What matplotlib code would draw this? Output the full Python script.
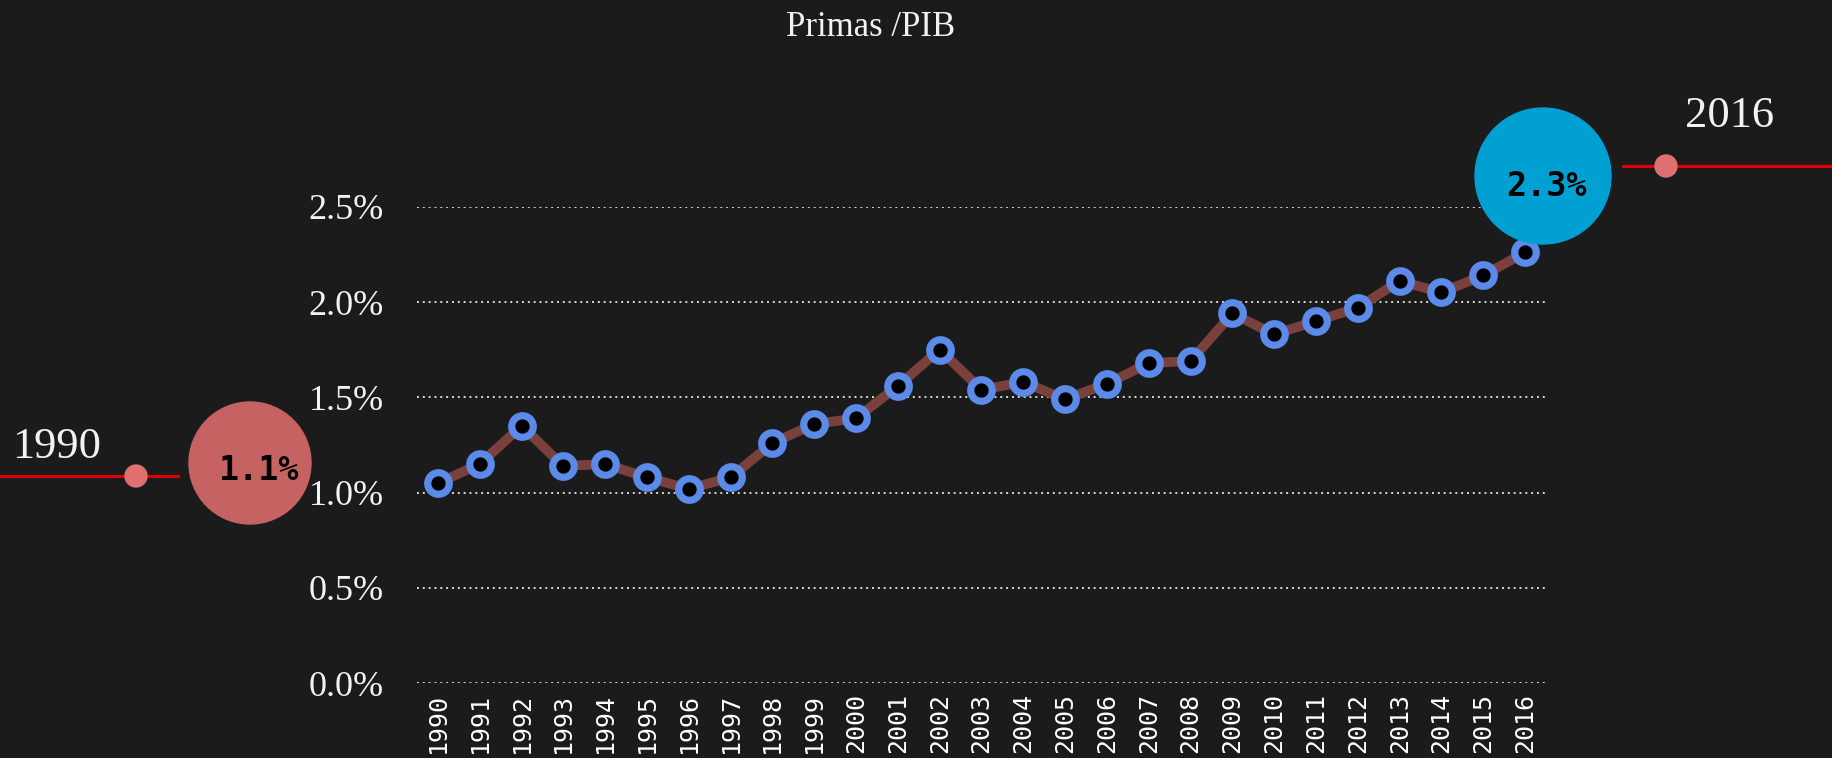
import numpy as np
import matplotlib
matplotlib.use('Agg')
import matplotlib.pyplot as plt
from matplotlib.patches import Circle

# ---- data ----
years = [str(y) for y in range(1990, 2017)]
primas_pib = [1.05, 1.15, 1.35, 1.14, 1.15, 1.08, 1.02, 1.08, 1.26, 1.36,
              1.39, 1.56, 1.75, 1.54, 1.58, 1.49, 1.57, 1.68, 1.69, 1.94,
              1.83, 1.90, 1.97, 2.11, 2.05, 2.14, 2.26]
y_ticks = [0.0, 0.5, 1.0, 1.5, 2.0, 2.5]
title = 'Primas /PIB'
start_year, start_label = '1990', '1.1%'
end_year, end_label = '2016', '2.3%'

# ---- style ----
BG = '#1b1b1b'
LINE = '#7a403c'
RING = '#5b8ae8'
SERIF = 'Liberation Serif'
MONO = 'DejaVu Sans Mono'

W, H = 1832, 758
fig = plt.figure(figsize=(W / 100, H / 100), dpi=100, facecolor=BG)

ax = fig.add_axes([417 / W, 1 - 683.3 / H, 1129 / W, 476.6 / H])
ax.set_facecolor('none')
x = np.arange(len(years))
ax.plot(x, primas_pib, color=LINE, lw=7, zorder=3, clip_on=False)
ax.plot(x, primas_pib, 'o', ms=15.5, mfc='black', mec=RING, mew=5.2,
        zorder=4, clip_on=False)
ax.set_xlim(-0.5, len(years) - 0.5)
ax.set_ylim(0, 2.5)
ax.set_yticks(y_ticks)
ax.set_yticklabels([f'{v:.1f}%' for v in y_ticks], fontfamily=SERIF,
                   fontsize=26, color='#f2f2f2')
ax.set_xticks(x)
ax.set_xticklabels(years, rotation=90, fontfamily=MONO, fontsize=18,
                   color='white')
ax.tick_params(axis='y', length=0, pad=24)
ax.tick_params(axis='x', length=0, pad=7)
ax.grid(axis='y', color='#d8d8d8', ls=(0, (1, 2)), lw=1.4)
for s in ax.spines.values():
    s.set_visible(False)

# ---- overlay in pixel coords for the callouts ----
ov = fig.add_axes([0, 0, 1, 1], facecolor='none')
ov.set_xlim(0, W)
ov.set_ylim(H, 0)
ov.axis('off')

fig.text(871 / W, 1 - 27 / H, title, ha='center', va='center',
         fontfamily=SERIF, fontsize=25, color='#f2f2f2')

# left callout
ov.plot([0, 178], [476, 476], color='#e00000', lw=2.2)
ov.add_patch(Circle((136, 476), 11, color='#e07070', zorder=3))
ov.add_patch(Circle((250, 463), 61, color='#c66262', zorder=2))
ov.text(259, 471, start_label, ha='center', va='center', fontfamily=MONO,
        fontweight='bold', fontsize=24, color='black', zorder=5)
ov.text(12, 447, start_year, ha='left', va='center',
        fontfamily=SERIF, fontsize=32, color='#f2f2f2')

# right callout
ov.plot([1623, W], [166, 166], color='#e00000', lw=2.2)
ov.add_patch(Circle((1666, 166), 11, color='#e07070', zorder=3))
ov.add_patch(Circle((1543, 176), 68, color='#00a0d2', zorder=2))
ov.text(1546, 186, end_label, ha='center', va='center', fontfamily=MONO,
        fontweight='bold', fontsize=24, color='black', zorder=5)
ov.text(1685, 116, end_year, ha='left', va='center',
        fontfamily=SERIF, fontsize=32, color='#f2f2f2')

fig.savefig('out.png', dpi=100, facecolor=BG)
